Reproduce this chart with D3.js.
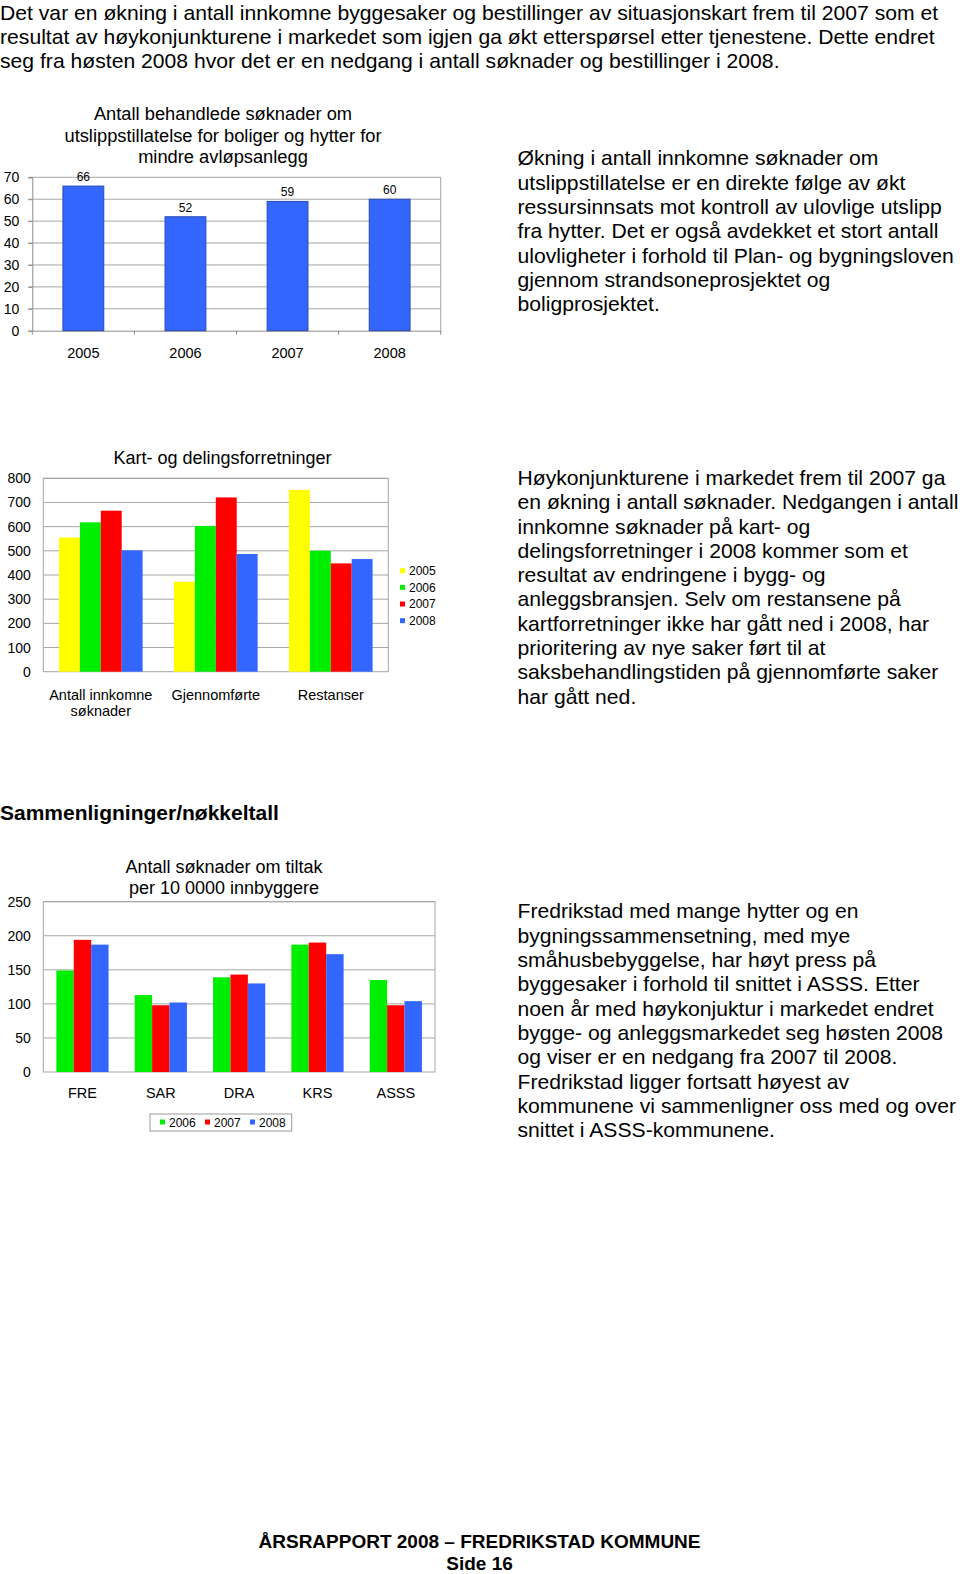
<!DOCTYPE html>
<html>
<head>
<meta charset="utf-8">
<script src="https://cdn.jsdelivr.net/npm/d3@7"></script>
<style>
  html, body { margin: 0; padding: 0; background: #fff; }
  svg { display: block; font-family: "Liberation Sans", Arial, sans-serif; }
</style>
</head>
<body>
<div id="page"></div>
<script>
// ---------- DATA ----------
const introLines = [
  "Det var en økning i antall innkomne byggesaker og bestillinger av situasjonskart frem til 2007 som et",
  "resultat av høykonjunkturene i markedet som igjen ga økt etterspørsel etter tjenestene. Dette endret",
  "seg fra høsten 2008 hvor det er en nedgang i antall søknader og bestillinger i 2008."
];

const chart1Title = ["Antall behandlede søknader om", "utslippstillatelse for boliger og hytter for", "mindre avløpsanlegg"];
const chart1Years = ["2005", "2006", "2007", "2008"];
const chart1Values = [66, 52, 59, 60];
const chart1Ticks = [0, 10, 20, 30, 40, 50, 60, 70];

const text1Lines = [
  "Økning i antall innkomne søknader om",
  "utslippstillatelse er en direkte følge av økt",
  "ressursinnsats mot kontroll av ulovlige utslipp",
  "fra hytter. Det er også avdekket et stort antall",
  "ulovligheter i forhold til Plan- og bygningsloven",
  "gjennom strandsoneprosjektet og",
  "boligprosjektet."
];

const chart2Title = "Kart- og delingsforretninger";
const chart2Categories = [["Antall innkomne", "søknader"], ["Gjennomførte"], ["Restanser"]];
const chart2Series = ["2005", "2006", "2007", "2008"];
const chart2Values2005 = [555, 372, 752];
const chart2Values2006 = [618, 603, 500];
const chart2Values2007 = [666, 721, 448];
const chart2Values2008 = [502, 487, 466];
const chart2Ticks = [0, 100, 200, 300, 400, 500, 600, 700, 800];

const text2Lines = [
  "Høykonjunkturene i markedet frem til 2007 ga",
  "en økning i antall søknader. Nedgangen i antall",
  "innkomne søknader på kart- og",
  "delingsforretninger i 2008 kommer som et",
  "resultat av endringene i bygg- og",
  "anleggsbransjen. Selv om restansene på",
  "kartforretninger ikke har gått ned i 2008, har",
  "prioritering av nye saker ført til at",
  "saksbehandlingstiden på gjennomførte saker",
  "har gått ned."
];

const sectionHeading = "Sammenligninger/nøkkeltall";

const chart3Title = ["Antall søknader om tiltak", "per 10 0000 innbyggere"];
const chart3Categories = ["FRE", "SAR", "DRA", "KRS", "ASSS"];
const chart3Series = ["2006", "2007", "2008"];
const chart3Values2006 = [149, 113, 139, 187, 135];
const chart3Values2007 = [194, 98, 143, 190, 98];
const chart3Values2008 = [187, 102, 130, 173, 104];
const chart3Ticks = [0, 50, 100, 150, 200, 250];

const text3Lines = [
  "Fredrikstad med mange hytter og en",
  "bygningssammensetning, med mye",
  "småhusbebyggelse, har høyt press på",
  "byggesaker i forhold til snittet i ASSS. Etter",
  "noen år med høykonjuktur i markedet endret",
  "bygge- og anleggsmarkedet seg høsten 2008",
  "og viser er en nedgang fra 2007 til 2008.",
  "Fredrikstad ligger fortsatt høyest av",
  "kommunene vi sammenligner oss med og over",
  "snittet i ASSS-kommunene."
];

const footerLines = ["ÅRSRAPPORT 2008 – FREDRIKSTAD KOMMUNE", "Side 16"];

// ---------- STYLE ----------
const yearColors = { "2005": "#FFFF00", "2006": "#00EE00", "2007": "#FF0000", "2008": "#3366FF" };
const gridColor = "#a6a6a6";
const axisColor = "#8c8c8c";

const W = 960, H = 1574;
const svg = d3.select("#page").append("svg").attr("width", W).attr("height", H);
svg.append("rect").attr("width", W).attr("height", H).attr("fill", "#fff");

function textBlock(lines, x, y0, lh, size, opts = {}) {
  const sx = opts.sx || 1;
  const g = svg.append("g").attr("transform", `translate(${x},0) scale(${sx},1)`);
  g.selectAll("text").data(lines).join("text")
    .attr("x", 0)
    .attr("y", (d, i) => y0 + i * lh)
    .attr("font-size", size)
    .attr("font-weight", opts.weight || "normal")
    .attr("text-anchor", opts.anchor || "start")
    .attr("fill", "#000")
    .text(d => d);
  return g;
}

// ---------- TEXT ----------
textBlock(introLines, 0, 20, 24.2, 20, { sx: 1.058 });
textBlock(text1Lines, 517.5, 165.5, 24.3, 20, { sx: 1.058 });
textBlock(text2Lines, 517.5, 485, 24.3, 20, { sx: 1.058 });
textBlock([sectionHeading], 0, 820, 0, 21, { weight: "bold" });
textBlock(text3Lines, 517.5, 918.5, 24.3, 20, { sx: 1.058 });
textBlock(footerLines, 479.5, 1548, 22, 19, { weight: "bold", anchor: "middle" });

// ---------- CHART 1 ----------
(function () {
  const left = 32.3, right = 440.7, top = 177.3, bottom = 330.7;
  const x = d3.scaleBand().domain(chart1Years).range([left, right]).paddingInner(0.6).paddingOuter(0.3);
  const y = d3.scaleLinear().domain([0, 70]).range([bottom, top]);
  const g = svg.append("g");

  // title
  g.append("g").selectAll("text").data(chart1Title).join("text")
    .attr("x", 223).attr("y", (d, i) => 120 + i * 21.5)
    .attr("text-anchor", "middle").attr("font-size", 18.3).text(d => d);

  // grid
  g.append("g").selectAll("line").data(chart1Ticks.filter(t => t > 0)).join("line")
    .attr("x1", left - 4).attr("x2", right).attr("y1", d => y(d)).attr("y2", d => y(d))
    .attr("stroke", gridColor).attr("stroke-width", 1);
  g.append("line").attr("x1", right).attr("x2", right).attr("y1", top).attr("y2", bottom)
    .attr("stroke", gridColor);

  // y axis
  const ya = g.append("g").attr("transform", `translate(${left},0)`)
    .call(d3.axisLeft(y).tickValues(chart1Ticks).tickSize(4).tickPadding(9));
  ya.select(".domain").attr("stroke", axisColor);
  ya.selectAll(".tick line").attr("stroke", axisColor);
  ya.selectAll(".tick text").attr("font-size", 14).attr("font-family", "Liberation Sans, Arial, sans-serif").attr("fill", "#000");

  // x axis
  const xa = g.append("g").attr("transform", `translate(0,${bottom})`)
    .call(d3.axisBottom(x).tickSize(0).tickPadding(0));
  xa.select(".domain").attr("stroke", axisColor);
  xa.selectAll(".tick text").attr("font-size", 14.5).attr("font-family", "Liberation Sans, Arial, sans-serif")
    .attr("fill", "#000").attr("dy", 0).attr("y", 27);
  // category boundary ticks
  g.append("g").selectAll("line").data(chart1Years.concat(["end"])).join("line")
    .attr("x1", (d, i) => left + i * x.step()).attr("x2", (d, i) => left + i * x.step())
    .attr("y1", bottom).attr("y2", bottom + 4).attr("stroke", axisColor);

  // bars
  g.append("g").selectAll("rect").data(chart1Values).join("rect")
    .attr("x", (d, i) => x(chart1Years[i])).attr("width", x.bandwidth())
    .attr("y", d => y(d)).attr("height", d => bottom - y(d))
    .attr("fill", "#3366FF").attr("stroke", "#2a4bb0").attr("stroke-width", 1);

  // labels
  g.append("g").selectAll("text").data(chart1Values).join("text")
    .attr("x", (d, i) => x(chart1Years[i]) + x.bandwidth() / 2)
    .attr("y", d => y(d) - 5)
    .attr("text-anchor", "middle").attr("font-size", 12).text(d => d);
})();

// ---------- grouped bar chart helper ----------
function groupedChart(cfg) {
  const { left, right, top, bottom, categories, series, values, ticks, maxY } = cfg;
  const g = svg.append("g");
  const x0 = d3.scaleBand().domain(d3.range(categories.length)).range([left, right]).padding(0);
  const x1 = d3.scaleBand().domain(series).range([0, x0.bandwidth()]).paddingInner(0).paddingOuter(0.75);
  const y = d3.scaleLinear().domain([0, maxY]).range([bottom, top]);

  // grid
  g.append("g").selectAll("line").data(ticks.filter(t => t > 0)).join("line")
    .attr("x1", left).attr("x2", right).attr("y1", d => y(d)).attr("y2", d => y(d))
    .attr("stroke", gridColor);
  g.append("rect").attr("x", left).attr("y", top).attr("width", right - left).attr("height", bottom - top)
    .attr("fill", "none").attr("stroke", gridColor);

  // y labels
  const ya = g.append("g").attr("transform", `translate(${left},0)`)
    .call(d3.axisLeft(y).tickValues(ticks).tickSize(0).tickPadding(cfg.tickPad));
  ya.select(".domain").remove();
  ya.selectAll(".tick text").attr("font-size", 14).attr("font-family", "Liberation Sans, Arial, sans-serif").attr("fill", "#000");

  // bars
  series.forEach((s, si) => {
    g.append("g").selectAll("rect").data(values[si]).join("rect")
      .attr("x", (d, i) => x0(i) + x1(s)).attr("width", x1.bandwidth())
      .attr("y", d => y(d)).attr("height", d => bottom - y(d))
      .attr("fill", yearColors[s]);
  });

  // x labels
  categories.forEach((c, i) => {
    const lines = Array.isArray(c) ? c : [c];
    g.append("g").selectAll("text").data(lines).join("text")
      .attr("x", x0(i) + x0.bandwidth() / 2)
      .attr("y", (d, j) => cfg.labelY + j * 16.5)
      .attr("text-anchor", "middle").attr("font-size", 14.5).text(d => d);
  });
  return g;
}

// ---------- CHART 2 ----------
svg.append("text").attr("x", 222.5).attr("y", 463.5).attr("text-anchor", "middle")
  .attr("font-size", 18).text(chart2Title);
groupedChart({
  left: 43.3, right: 388.3, top: 478.3, bottom: 671.7,
  categories: chart2Categories, series: chart2Series,
  values: [chart2Values2005, chart2Values2006, chart2Values2007, chart2Values2008],
  ticks: chart2Ticks, maxY: 800, tickPad: 12.5, labelY: 699.5
});
// legend chart 2
(function () {
  const g = svg.append("g");
  const ly = d3.scalePoint().domain(chart2Series).range([570.7, 620.7]);
  g.selectAll("rect").data(chart2Series).join("rect")
    .attr("x", 400).attr("y", d => ly(d) - 2.5).attr("width", 5).attr("height", 5)
    .attr("fill", d => yearColors[d]);
  g.selectAll("text").data(chart2Series).join("text")
    .attr("x", 409).attr("y", d => ly(d) + 4.3).attr("font-size", 12).text(d => d);
})();

// ---------- CHART 3 ----------
svg.append("g").selectAll("text").data(chart3Title).join("text")
  .attr("x", 224).attr("y", (d, i) => 873 + i * 21).attr("text-anchor", "middle")
  .attr("font-size", 18).text(d => d);
groupedChart({
  left: 43.3, right: 435, top: 901.7, bottom: 1072,
  categories: chart3Categories, series: chart3Series,
  values: [chart3Values2006, chart3Values2007, chart3Values2008],
  ticks: chart3Ticks, maxY: 250, tickPad: 12.5, labelY: 1098
});
// legend chart 3
(function () {
  const g = svg.append("g");
  g.append("rect").attr("x", 150).attr("y", 1114).attr("width", 141.7).attr("height", 17)
    .attr("fill", "#fff").attr("stroke", "#999");
  const lx = d3.scalePoint().domain(chart3Series).range([160, 250]);
  g.selectAll("rect.sw").data(chart3Series).join("rect").attr("class", "sw")
    .attr("x", d => lx(d)).attr("y", 1119.5).attr("width", 5).attr("height", 5)
    .attr("fill", d => yearColors[d]);
  g.selectAll("text").data(chart3Series).join("text")
    .attr("x", d => lx(d) + 9).attr("y", 1126.5).attr("font-size", 12).text(d => d);
})();
</script>
</body>
</html>
